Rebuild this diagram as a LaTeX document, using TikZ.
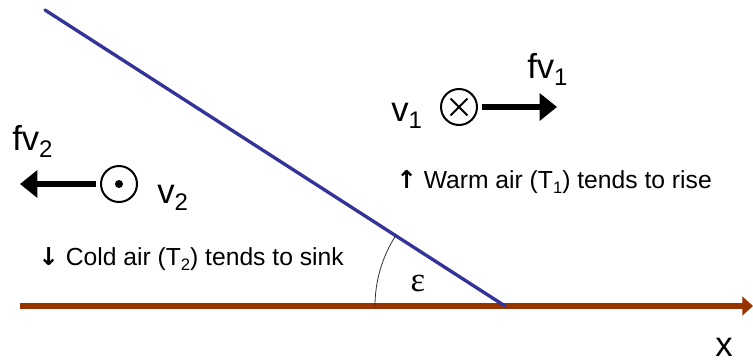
\documentclass[tikz,border=0pt]{standalone}
\usepackage{fontspec}
\setmainfont{Liberation Sans}
\newfontfamily\greekfont{Liberation Serif}
\newfontfamily\arrowfont{DejaVu Sans}
\usetikzlibrary{arrows.meta}
\definecolor{FigureNavy}{HTML}{333399}
\definecolor{FigureBrown}{HTML}{993300}
\newcommand{\lowsub}[2][18]{\raisebox{-0.22em}{\fontsize{#1}{#1}\selectfont #2}}

\begin{document}
\begin{tikzpicture}[x=0.75pt,y=-0.75pt,line join=round,
  flow/.style={circle,draw,line width=1.5pt,minimum size=27pt,inner sep=0pt},
  intoPage/.style={flow,path picture={
      \draw[line width=1.5pt] (path picture bounding box.center) ++(45:9pt) -- ++(225:18pt)
        (path picture bounding box.center) ++(135:9pt) -- ++(-45:18pt);}},
  outOfPage/.style={flow,path picture={
      \fill (path picture bounding box.center) circle (3pt);}},
  force/.style={line width=4.5pt,shorten <=3pt,-{Triangle[length=13pt,width=20pt]}},
  big/.style={font=\fontsize{26}{26}\selectfont,inner sep=0pt,anchor=base west},
  note/.style={font=\fontsize{18.5}{18.5}\selectfont,inner sep=0pt,anchor=base west}]
  \useasboundingbox (0,0) rectangle (753,362);
  \coordinate (S) at (20,306);
  \coordinate (E) at (753,306);
  \coordinate (O) at (505,306);
  \coordinate (F) at (45,10);

  \draw[FigureBrown,line width=4pt,-{Triangle[length=8pt,width=14pt]}] (S) -- (E);
  \draw[FigureNavy,line width=2.5pt,line cap=round] (F) -- (O);
  \draw[line width=0.6pt,black!80] (375,306) arc[start angle=180,end angle=213,radius=130];
  \node[font=\greekfont\fontsize{26}{26}\selectfont] (eps) at (418,283) {ε};

  \node[intoPage] (vone) at (459,107) {};
  \coordinate (fvonetip) at (557,107);
  \draw[force] (vone) -- (fvonetip);
  \node[big] (vonelabel) at (391,121) {v\lowsub{1}};
  \node[big] (fvonelabel) at (527,78) {fv\lowsub{1}};

  \node[outOfPage] (vtwo) at (119,184) {};
  \coordinate (fvtwotip) at (20,184);
  \draw[force] (vtwo) -- (fvtwotip);
  \node[big] (vtwolabel) at (157,203) {v\lowsub{2}};
  \node[big] (fvtwolabel) at (12,150) {fv\lowsub{2}};

  \node[big] (xlabel) at (715,356) {x};
  \node[note] (warm) at (396,188) {{\arrowfont\bfseries ↑} Warm air (T\lowsub[12.5]{1}) tends to rise};
  \node[note] (cold) at (38,265) {{\arrowfont\bfseries ↓} Cold air (T\lowsub[12.5]{2}) tends to sink};
\end{tikzpicture}
\end{document}
